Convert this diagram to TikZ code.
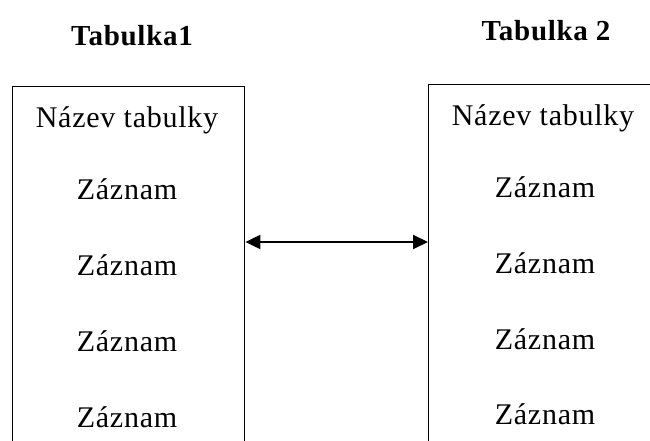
\documentclass[tikz,border=0pt]{standalone}
\usepackage{fontspec}
\setmainfont[LetterSpace=2.5]{Liberation Serif}
\usetikzlibrary{arrows.meta}
\begin{document}
\begin{tikzpicture}[x=1pt,y=-1pt,
  tablebox/.style={draw, line width=1.4pt, anchor=north west, inner sep=0pt},
  heading/.style={font=\fontsize{29}{32}\selectfont\bfseries, inner sep=0pt},
  entry/.style={font=\fontsize{30}{34}\selectfont, inner sep=0pt},
  link/.style={line width=2pt, {Triangle[length=15pt,width=14pt]}-{Triangle[length=15pt,width=14pt]}}]
\useasboundingbox (0,0) rectangle (650,441);
% table frames, open at the bottom edge of the page
\node[tablebox, minimum width=232pt, minimum height=380pt] (t1) at (12,86) {};
\node[tablebox, minimum width=240pt, minimum height=380pt] (t2) at (428,84) {};
% headings
\node[heading] (h1) at (132,36) {Tabulka1};
\node[heading] (h2) at (546,31) {Tabulka 2};
% left table rows
\node[entry] (l0) at (127,120) {Název tabulky};
\node[entry] (l1) at (127,189) {Záznam};
\node[entry] (l2) at (127,265) {Záznam};
\node[entry] (l3) at (127,341) {Záznam};
\node[entry] (l4) at (127,417) {Záznam};
% right table rows
\node[entry] (r0) at (543,118) {Název tabulky};
\node[entry] (r1) at (545,187) {Záznam};
\node[entry] (r2) at (545,263) {Záznam};
\node[entry] (r3) at (545,339) {Záznam};
\node[entry] (r4) at (545,414) {Záznam};
% relation between the tables
\draw[link] (t1.east |- 0,242) -- (t2.west |- 0,242);
\end{tikzpicture}
\end{document}
